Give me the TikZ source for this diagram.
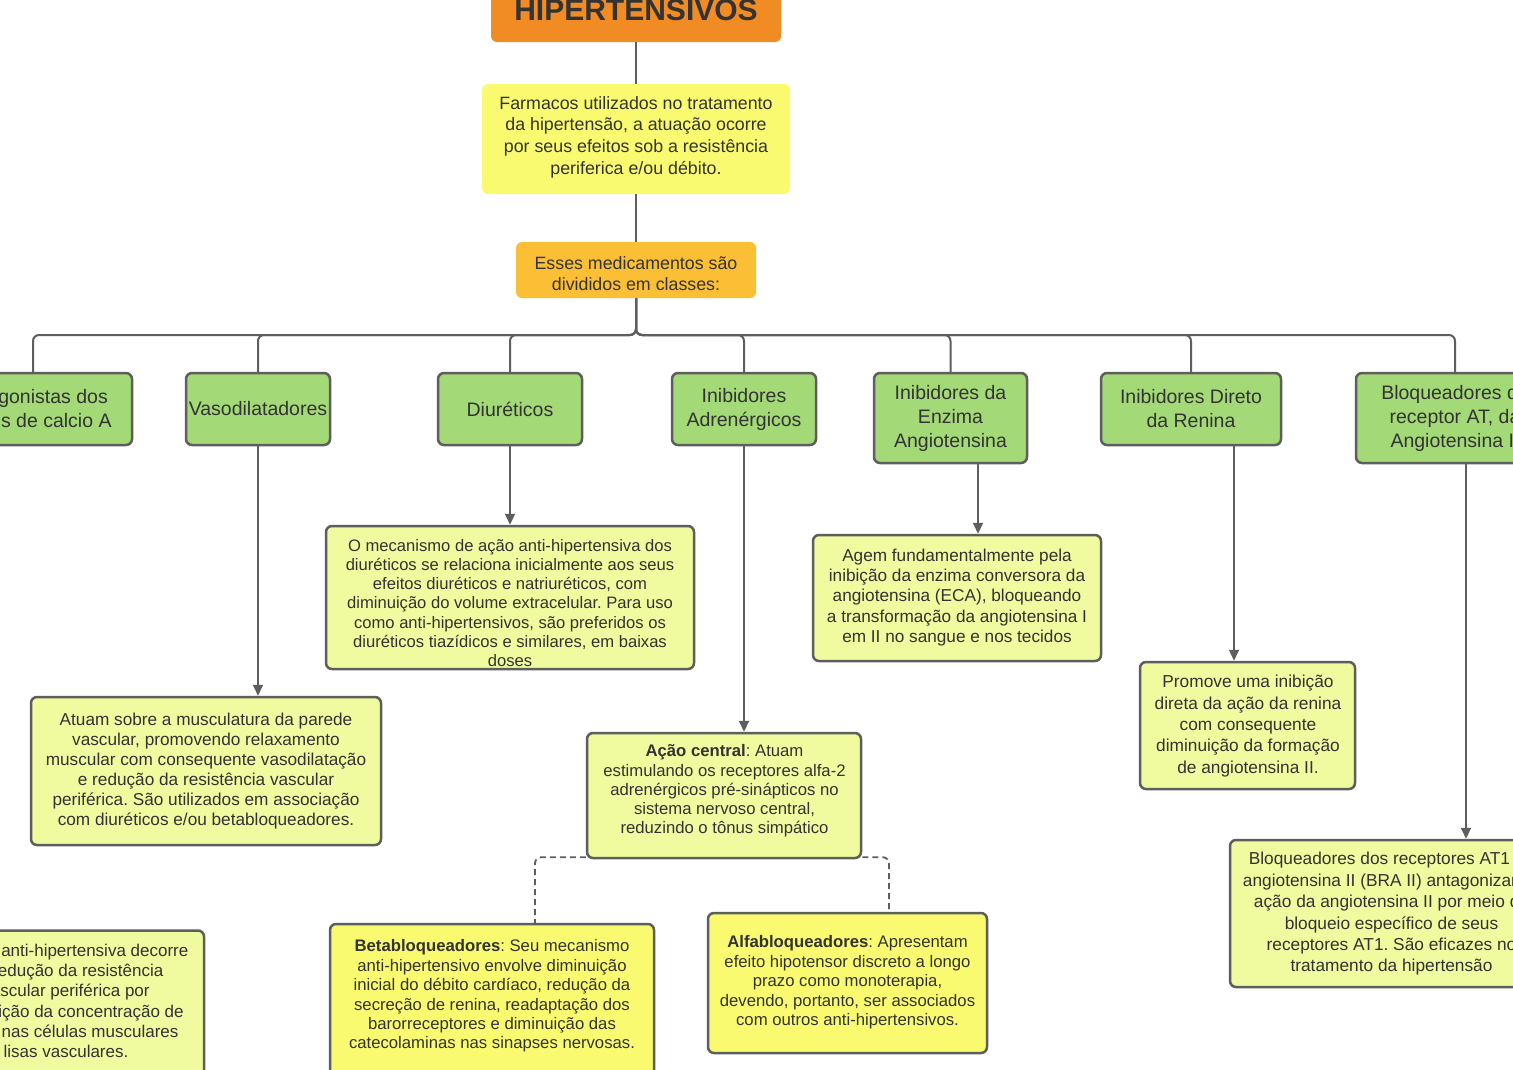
\documentclass[tikz,border=0pt]{standalone}
\usepackage{fontspec}
\setmainfont{Liberation Sans}
\usetikzlibrary{arrows.meta}
\definecolor{lineC}{HTML}{5E5E5E}
\definecolor{txtC}{HTML}{333333}
\definecolor{titleC}{HTML}{F08C23}
\definecolor{yelC}{HTML}{FAFA70}
\definecolor{oraC}{HTML}{FBBF35}
\definecolor{greenC}{HTML}{A3D977}
\definecolor{paleC}{HTML}{F0FA9E}
\newcommand{\fsz}[2]{\fontsize{#1}{#2}\selectfont}
\frenchspacing
\begin{document}
\begin{tikzpicture}[x=1pt,y=-1pt,
  box/.style={rounded corners=6pt, draw=lineC, line width=2.5pt, inner sep=0pt},
  gbox/.style={box, fill=greenC, text=txtC, align=center, font=\fsz{19.5}{24}},
  pbox/.style={box, fill=paleC},
  ybox/.style={box, fill=yelC},
  txt/.style={text=txtC, align=center, inner sep=0pt},
  conn/.style={draw=lineC, line width=2pt},
  arr/.style={conn, -{Triangle[length=11pt,width=10pt]}},
  dconn/.style={draw=lineC, line width=1.8pt, dash pattern=on 6pt off 4pt, rounded corners=6pt}
]
\useasboundingbox (0,0) rectangle (1513,1069);
\clip (0,0) rectangle (1513,1069);
\fill[white] (0,0) rectangle (1513,1069);

% top nodes
\node[rounded corners=6pt, fill=titleC, minimum width=290pt, minimum height=82pt, inner sep=0pt] (T) at (636,1) {};
\node[txt, font=\bfseries\fsz{30}{34}, anchor=base] (Tt) at (636,20) {HIPERTENSIVOS};
\node[rounded corners=6pt, fill=yelC, minimum width=308pt, minimum height=110pt, inner sep=0pt] (Y1) at (636,139) {};
\node[txt, font=\fsz{17.8}{21.7}] (tY1) at (636,137) {Farmacos utilizados no tratamento\\da hipertensão, a atuação ocorre\\por seus efeitos sob a resistência\\periferica e/ou débito.};
\node[rounded corners=6pt, fill=oraC, minimum width=240pt, minimum height=56pt, inner sep=0pt] (O1) at (636,270) {};
\node[txt, font=\fsz{17.8}{21.7}] (tO1) at (636,273.5) {Esses medicamentos são\\divididos em classes:};

% green class nodes
\node[gbox, minimum width=198pt, minimum height=72pt] (G1) at (33,409) {Antagonistas dos\\canais de calcio A};
\node[gbox, minimum width=144pt, minimum height=72pt] (G2) at (258,409) {Vasodilatadores};
\node[gbox, minimum width=144pt, minimum height=72pt] (G3) at (510,409) {Diuréticos};
\node[gbox, minimum width=144pt, minimum height=72pt] (G4) at (744,409) {Inibidores\\Adrenérgicos};
\node[gbox, minimum width=153pt, minimum height=90pt] (G5) at (950.5,418) {Inibidores da\\Enzima\\Angiotensina};
\node[gbox, minimum width=180pt, minimum height=72pt] (G6) at (1191,409) {Inibidores Direto\\da Renina};
\node[gbox, minimum width=198pt, minimum height=90pt] (G7) at (1455,418) {Bloqueadores do\\receptor AT, da\\Angiotensina II};

% description boxes
\node[pbox, minimum width=368pt, minimum height=143pt] (D1) at (510,597.5) {};
\node[txt, font=\fsz{16.6}{19.3}] (tD1) at (510,603) {O mecanismo de ação anti-hipertensiva dos\\diuréticos se relaciona inicialmente aos seus\\efeitos diuréticos e natriuréticos, com\\diminuição do volume extracelular. Para uso\\como anti-hipertensivos, são preferidos os\\diuréticos tiazídicos e similares, em baixas\\doses};

\node[pbox, minimum width=350pt, minimum height=148pt] (V1) at (206,771) {};
\node[txt, font=\fsz{17.2}{20}] (tV1) at (206,771.5) {Atuam sobre a musculatura da parede\\vascular, promovendo relaxamento\\muscular com consequente vasodilatação\\e redução da resistência vascular\\periférica. São utilizados em associação\\com diuréticos e/ou betabloqueadores.};

\node[pbox, minimum width=274pt, minimum height=125pt] (A1) at (724,795.5) {};
\node[txt, font=\fsz{16.7}{19.3}] (tA1) at (724.5,791) {\textbf{Ação central}: Atuam\\estimulando os receptores alfa-2\\adrenérgicos pré-sinápticos no\\sistema nervoso central,\\reduzindo o tônus simpático};

\node[pbox, minimum width=288pt, minimum height=126pt] (E1) at (957,598) {};
\node[txt, font=\fsz{17.2}{20.3}] (tE1) at (957,597.5) {Agem fundamentalmente pela\\inibição da enzima conversora da\\angiotensina (ECA), bloqueando\\a transformação da angiotensina I\\em II no sangue e nos tecidos};

\node[pbox, minimum width=215pt, minimum height=127pt] (R1) at (1247.5,725.5) {};
\node[txt, font=\fsz{17.3}{21.4}] (tR1) at (1248,726) {Promove uma inibição\\direta da ação da renina\\com consequente\\diminuição da formação\\de angiotensina II.};

\node[pbox, minimum width=324pt, minimum height=147pt] (B1) at (1392,913.5) {};
\node[txt, font=\fsz{17.3}{21.4}] (tB1) at (1391.5,914) {Bloqueadores dos receptores AT1 da\\angiotensina II (BRA II) antagonizam a\\ação da angiotensina II por meio do\\bloqueio específico de seus\\receptores AT1. São eficazes no\\tratamento da hipertensão};

\node[pbox, minimum width=270pt, minimum height=159pt] (C1) at (69,1010) {};
\node[txt, font=\fsz{17}{20.3}] (tC1) at (66,1001) {A ação anti-hipertensiva decorre\\da redução da resistência\\vascular periférica por\\diminuição da concentração de\\cálcio nas células musculares\\lisas vasculares.};

\node[ybox, minimum width=324pt, minimum height=166pt] (BB) at (492,1007) {};
\node[txt, font=\fsz{16.7}{19.4}] (tBB) at (492,996) {\textbf{Betabloqueadores}: Seu mecanismo\\anti-hipertensivo envolve diminuição\\inicial do débito cardíaco, redução da\\secreção de renina, readaptação dos\\barorreceptores e diminuição das\\catecolaminas nas sinapses nervosas.};

\node[ybox, minimum width=279pt, minimum height=140pt] (AB) at (847.5,983) {};
\node[txt, font=\fsz{16.7}{19.5}] (tAB) at (847.5,982.5) {\textbf{Alfabloqueadores}: Apresentam\\efeito hipotensor discreto a longo\\prazo como monoterapia,\\devendo, portanto, ser associados\\com outros anti-hipertensivos.};

% connectors
\draw[conn] (T.south) -- (Y1.north);
\draw[conn] (Y1.south) -- (O1.north);
\coordinate (bus) at (636,335);
\foreach \g in {G1,G2,G3,G4,G5,G6,G7}
  \draw[conn, rounded corners=6pt] (O1.south) -- (bus) -| (\g.north);

\draw[arr] (G2.south) -- (G2.south |- V1.north);
\draw[arr] (G3.south) -- (G3.south |- D1.north);
\draw[arr] (G4.south) -- (G4.south |- A1.north);
\draw[arr] ([xshift=27.5pt]G5.south) -- ([xshift=27.5pt]G5.south |- E1.north);
\draw[arr, line width=1.5pt] ([xshift=43pt]G6.south) -- ([xshift=43pt]G6.south |- R1.north);
\draw[arr] ([xshift=11pt]G7.south) -- ([xshift=11pt]G7.south |- B1.north);

\draw[dconn] ([yshift=2pt]A1.south west) -| ([xshift=43pt]BB.north);
\draw[dconn] ([yshift=2pt]A1.south east) -| ([xshift=41.5pt]AB.north);
\end{tikzpicture}
\end{document}
